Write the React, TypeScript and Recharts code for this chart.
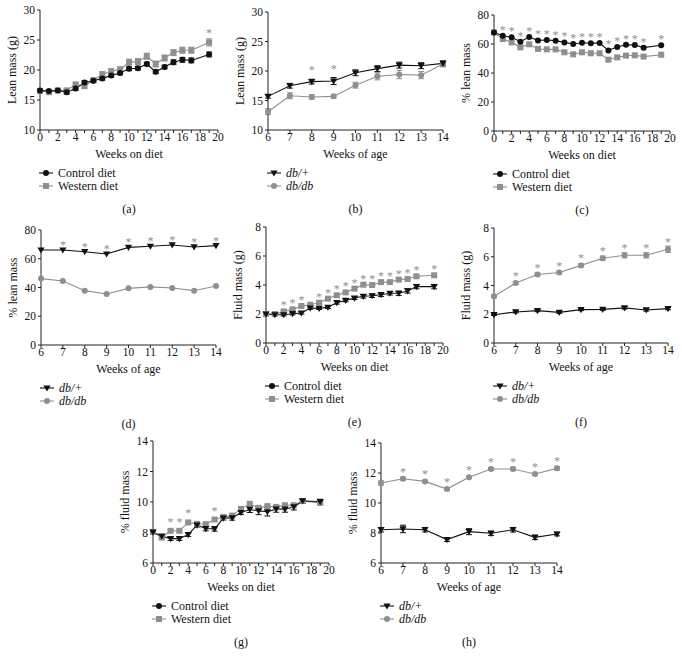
import { LineChart, Line, XAxis, YAxis, ErrorBar, LabelList } from 'recharts'

const DIET_WEEKS = [0, 1, 2, 3, 4, 5, 6, 7, 8, 9, 10, 11, 12, 13, 14, 15, 16, 17, 19]
const AGE_WEEKS = [6, 7, 8, 9, 10, 11, 12, 13, 14]
const DIET_TICKS = [0, 1, 2, 3, 4, 5, 6, 7, 8, 9, 10, 11, 12, 13, 14, 15, 16, 17, 18, 19, 20]

// (a) lean mass, diet
const LEAN_CONTROL = [16.6, 16.5, 16.6, 16.3, 16.9, 17.9, 18.2, 18.6, 19.1, 19.5, 20.2, 20.3, 21.0, 19.7, 20.5, 21.3, 21.7, 21.6, 22.6]
const LEAN_CONTROL_ERR = [0.2, 0.2, 0.2, 0.3, 0.3, 0.3, 0.3, 0.3, 0.3, 0.3, 0.3, 0.3, 0.3, 0.3, 0.3, 0.4, 0.4, 0.4, 0.4]
const LEAN_WESTERN = [16.5, 16.3, 16.6, 16.6, 17.6, 17.3, 18.3, 19.3, 19.8, 20.1, 21.3, 21.4, 22.3, 21.0, 22.0, 22.9, 23.3, 23.3, 24.6]
const LEAN_WESTERN_ERR = [0.2, 0.3, 0.3, 0.3, 0.3, 0.3, 0.3, 0.4, 0.4, 0.4, 0.5, 0.5, 0.5, 0.5, 0.5, 0.5, 0.5, 0.5, 0.6]
const LEAN_DIET_SIG = [19]

// (b) lean mass, age
const LEAN_DBH = [15.7, 17.5, 18.2, 18.3, 19.7, 20.4, 21.0, 20.9, 21.3]
const LEAN_DBH_ERR = [0.3, 0.4, 0.4, 0.6, 0.5, 0.5, 0.5, 0.5, 0.4]
const LEAN_DBDB = [13.1, 15.8, 15.6, 15.7, 17.6, 19.1, 19.4, 19.3, 21.2]
const LEAN_DBDB_ERR = [0.5, 0.5, 0.4, 0.3, 0.5, 0.6, 0.7, 0.6, 0.5]
const LEAN_AGE_SIG = [8, 9]

// (c) % lean mass, diet
const PLEAN_CONTROL = [68.0, 65.7, 64.6, 61.6, 64.8, 62.5, 62.8, 62.3, 61.1, 60.0, 60.9, 60.5, 60.7, 55.6, 57.9, 59.5, 59.3, 57.5, 59.1]
const PLEAN_WESTERN = [68.0, 63.4, 61.1, 57.7, 59.8, 56.6, 56.3, 56.3, 54.3, 52.9, 54.3, 53.6, 53.6, 49.2, 50.8, 52.0, 52.2, 51.3, 52.6]
const PLEAN_DIET_SIG = [1, 2, 3, 4, 5, 6, 7, 8, 9, 10, 11, 12, 13, 14, 15, 16, 17, 19]

// (d) % lean mass, age
const PLEAN_DBH = [66.1, 66.1, 64.9, 63.3, 67.9, 68.7, 69.6, 68.2, 69.1]
const PLEAN_DBDB = [46.2, 44.5, 37.8, 35.5, 39.4, 40.4, 39.7, 37.8, 41.1]
const PLEAN_AGE_SIG = [7, 8, 9, 10, 11, 12, 13, 14]

// (e) fluid mass, diet
const FLUID_CONTROL = [2.0, 1.95, 1.95, 2.02, 2.07, 2.41, 2.39, 2.46, 2.78, 2.94, 3.1, 3.22, 3.26, 3.33, 3.43, 3.43, 3.59, 3.89, 3.89]
const FLUID_CONTROL_ERR = [0.05, 0.05, 0.08, 0.08, 0.08, 0.08, 0.08, 0.08, 0.1, 0.1, 0.1, 0.12, 0.12, 0.12, 0.12, 0.15, 0.15, 0.15, 0.15]
const FLUID_WESTERN = [2.0, 2.0, 2.18, 2.32, 2.55, 2.64, 2.78, 3.06, 3.29, 3.49, 3.75, 4.02, 4.0, 4.2, 4.2, 4.37, 4.41, 4.6, 4.67]
const FLUID_WESTERN_ERR = [0.04, 0.04, 0.05, 0.05, 0.05, 0.05, 0.05, 0.05, 0.05, 0.05, 0.06, 0.06, 0.06, 0.06, 0.06, 0.06, 0.06, 0.07, 0.07]
const FLUID_DIET_SIG = [2, 3, 4, 6, 7, 8, 9, 10, 11, 12, 13, 14, 15, 16, 17, 19]

// (f) fluid mass, age
const FLUID_DBH = [1.97, 2.16, 2.25, 2.13, 2.32, 2.34, 2.44, 2.3, 2.39]
const FLUID_DBH_ERR = [0.06, 0.07, 0.07, 0.07, 0.07, 0.07, 0.08, 0.08, 0.08]
const FLUID_DBDB = [3.25, 4.17, 4.76, 4.9, 5.4, 5.9, 6.1, 6.1, 6.52]
const FLUID_DBDB_ERR = [0.1, 0.1, 0.1, 0.1, 0.12, 0.15, 0.18, 0.18, 0.22]
const FLUID_AGE_SIG = [7, 8, 9, 10, 11, 12, 13, 14]

// (g) % fluid mass, diet
const PFLUID_CONTROL = [8.02, 7.76, 7.6, 7.6, 7.86, 8.48, 8.26, 8.24, 8.94, 8.96, 9.31, 9.51, 9.42, 9.36, 9.53, 9.53, 9.68, 10.07, 10.03]
const PFLUID_CONTROL_ERR = [0.1, 0.1, 0.12, 0.12, 0.12, 0.12, 0.15, 0.15, 0.12, 0.15, 0.12, 0.2, 0.25, 0.28, 0.2, 0.2, 0.2, 0.15, 0.15]
const PFLUID_WESTERN = [8.04, 7.67, 8.11, 8.11, 8.66, 8.57, 8.55, 8.85, 9.02, 9.11, 9.55, 9.88, 9.62, 9.73, 9.68, 9.79, 9.79, 10.07, 9.94]
const PFLUID_WESTERN_ERR = [0.08, 0.1, 0.08, 0.08, 0.08, 0.08, 0.08, 0.08, 0.1, 0.1, 0.1, 0.1, 0.1, 0.1, 0.1, 0.1, 0.1, 0.12, 0.12]
const PFLUID_DIET_SIG = [2, 3, 4, 7]

// (h) % fluid mass, age
const PFLUID_DBH = [8.22, 8.27, 8.22, 7.56, 8.09, 7.98, 8.22, 7.71, 7.93]
const PFLUID_DBH_ERR = [0.15, 0.25, 0.15, 0.12, 0.2, 0.15, 0.15, 0.15, 0.12]
const PFLUID_DBDB = [11.33, 11.62, 11.44, 10.93, 11.71, 12.27, 12.27, 11.93, 12.31]
const PFLUID_DBDB_ERR = [0.15, 0.1, 0.08, 0.1, 0.08, 0.1, 0.12, 0.08, 0.12]
const PFLUID_AGE_SIG = [7, 8, 9, 10, 11, 12, 13, 14]

const BLACK = '#111'
const GRAY = '#8f8f8f'
const FONT = '"Liberation Serif", "Times New Roman", serif'

type Shape = 'circle' | 'square' | 'tri'

function Marker({ shape, color, x, y }: { shape: Shape; color: string; x: number; y: number }) {
  if (shape === 'circle') return <circle cx={x} cy={y} r={3} fill={color} />
  if (shape === 'square') return <rect x={x - 3} y={y - 3} width={6} height={6} fill={color} />
  return <path d={`M${x - 3.6},${y - 2.6}L${x + 3.6},${y - 2.6}L${x},${y + 3.6}Z`} fill={color} />
}

function makeDot(shape: Shape, color: string) {
  return (p: any) => {
    if (p.cx == null || p.cy == null) return <g key={p.index} />
    return (
      <g key={p.index}>
        <Marker shape={shape} color={color} x={p.cx} y={p.cy} />
      </g>
    )
  }
}

type Series = {
  label: string
  italic?: boolean
  values: number[]
  err?: number[]
  color: string
  shape: Shape
  legendShape: Shape
}

type PanelProps = {
  L: number
  T: number
  R: number
  B: number
  xs: number[]
  xTicks: number[]
  xEvery: number
  yDomain: [number, number]
  yTicks: number[]
  xLabel: string
  yLabel: string
  legend: Series[]
  drawOrder: Series[]
  stars: number[]
  starOn: number
  starOff: number
  caption: string
}

function Panel(p: PanelProps) {
  const YW = 40
  const MT = 16
  const MR = 12
  const XH = 34
  const data = p.xs.map((x, i) => {
    const row: any = { x, star: p.stars.includes(x) ? '*' : '' }
    p.drawOrder.forEach((s, k) => {
      row['s' + k] = s.values[i]
      if (s.err) row['e' + k] = s.err[i]
    })
    return row
  })
  const w = p.R - p.L
  const h = p.B - p.T
  const tickStyle = { fill: '#111', fontSize: 11.5, fontFamily: FONT }

  return (
    <>
      <div style={{ position: 'absolute', left: p.L - YW, top: p.T - MT }}>
        <LineChart width={w + YW + MR} height={h + MT + XH} data={data} margin={{ top: MT, right: MR, left: 0, bottom: 0 }}>
          <XAxis
            dataKey="x"
            type="number"
            domain={[p.xTicks[0], p.xTicks[p.xTicks.length - 1]]}
            ticks={p.xTicks}
            interval={0}
            tickFormatter={(v: number) => (v % p.xEvery === 0 ? String(v) : '')}
            height={XH}
            stroke="#222"
            tickSize={3}
            tickMargin={0}
            tick={tickStyle}
            label={{ value: p.xLabel, position: 'insideBottom', offset: 6, style: { fill: '#111', fontSize: 12, fontFamily: FONT } }}
          />
          <YAxis
            type="number"
            domain={p.yDomain}
            ticks={p.yTicks}
            interval={0}
            width={YW}
            stroke="#222"
            tickSize={3}
            tickMargin={2}
            tick={tickStyle}
            label={{ value: p.yLabel, angle: -90, position: 'insideLeft', offset: 12, style: { textAnchor: 'middle', fill: '#111', fontSize: 12, fontFamily: FONT } }}
          />
          {p.drawOrder.map((s, k) => (
            <Line
              key={s.label}
              dataKey={'s' + k}
              stroke={s.color}
              strokeWidth={1.1}
              dot={makeDot(s.shape, s.color)}
              activeDot={false}
              isAnimationActive={false}
            >
              {s.err && <ErrorBar dataKey={'e' + k} width={3} stroke={s.color} strokeWidth={1} direction="y" />}
              {k === p.starOn && (
                <LabelList
                  dataKey="star"
                  content={(lp: any) =>
                    lp.value ? (
                      <text x={lp.x} y={lp.y - p.starOff + 5} textAnchor="middle" fill={GRAY} fontSize={12} fontFamily={FONT}>
                        *
                      </text>
                    ) : null
                  }
                />
              )}
            </Line>
          ))}
        </LineChart>
      </div>
      <div style={{ position: 'absolute', left: p.L - 1, top: p.B + 37, fontFamily: FONT, fontSize: 12, color: '#111', lineHeight: '12.5px' }}>
        {p.legend.map((s) => (
          <div key={s.label} style={{ display: 'flex', alignItems: 'center', whiteSpace: 'nowrap' }}>
            <svg width={14} height={10} style={{ marginRight: 5 }}>
              <line x1={0} y1={5} x2={14} y2={5} stroke={s.color} strokeWidth={1.1} />
              <Marker shape={s.legendShape} color={s.color} x={7} y={5} />
            </svg>
            <span style={{ fontStyle: s.italic ? 'italic' : 'normal' }}>{s.label}</span>
          </div>
        ))}
      </div>
      <div style={{ position: 'absolute', left: p.L, width: w, top: p.B + 72, textAlign: 'center', fontFamily: FONT, fontSize: 12, color: '#111' }}>
        {p.caption}
      </div>
    </>
  )
}

function dietSeries(control: number[], western: number[], controlErr?: number[], westernErr?: number[], controlShape: Shape = 'circle') {
  const c: Series = { label: 'Control diet', values: control, err: controlErr, color: BLACK, shape: controlShape, legendShape: 'circle' }
  const w: Series = { label: 'Western diet', values: western, err: westernErr, color: GRAY, shape: 'square', legendShape: 'square' }
  return { c, w }
}

function ageSeries(dbh: number[], dbdb: number[], dbhErr?: number[], dbdbErr?: number[]) {
  const a: Series = { label: 'db/+', italic: true, values: dbh, err: dbhErr, color: BLACK, shape: 'tri', legendShape: 'tri' }
  const b: Series = { label: 'db/db', italic: true, values: dbdb, err: dbdbErr, color: GRAY, shape: 'circle', legendShape: 'circle' }
  return { a, b }
}

export default function App() {
  const pa = dietSeries(LEAN_CONTROL, LEAN_WESTERN, LEAN_CONTROL_ERR, LEAN_WESTERN_ERR)
  const pb = ageSeries(LEAN_DBH, LEAN_DBDB, LEAN_DBH_ERR, LEAN_DBDB_ERR)
  const pc = dietSeries(PLEAN_CONTROL, PLEAN_WESTERN)
  const pd = ageSeries(PLEAN_DBH, PLEAN_DBDB)
  const pe = dietSeries(FLUID_CONTROL, FLUID_WESTERN, FLUID_CONTROL_ERR, FLUID_WESTERN_ERR, 'tri')
  const pf = ageSeries(FLUID_DBH, FLUID_DBDB, FLUID_DBH_ERR, FLUID_DBDB_ERR)
  const pg = dietSeries(PFLUID_CONTROL, PFLUID_WESTERN, PFLUID_CONTROL_ERR, PFLUID_WESTERN_ERR, 'tri')
  const ph = ageSeries(PFLUID_DBH, PFLUID_DBDB, PFLUID_DBH_ERR, PFLUID_DBDB_ERR)

  return (
    <div style={{ position: 'fixed', left: 0, top: 0, width: 682, height: 662, background: '#fff', overflow: 'hidden' }}>
      <Panel L={40} T={10} R={218} B={130} xs={DIET_WEEKS} xTicks={DIET_TICKS} xEvery={2} yDomain={[10, 30]} yTicks={[10, 15, 20, 25, 30]}
        xLabel="Weeks on diet" yLabel="Lean mass (g)" legend={[pa.c, pa.w]} drawOrder={[pa.w, pa.c]} stars={LEAN_DIET_SIG} starOn={0} starOff={10} caption="(a)" />
      <Panel L={268} T={12} R={443} B={130} xs={AGE_WEEKS} xTicks={AGE_WEEKS} xEvery={1} yDomain={[10, 30]} yTicks={[10, 15, 20, 25, 30]}
        xLabel="Weeks of age" yLabel="Lean mass (g)" legend={[pb.a, pb.b]} drawOrder={[pb.b, pb.a]} stars={LEAN_AGE_SIG} starOn={1} starOff={13} caption="(b)" />
      <Panel L={494} T={15} R={670} B={131} xs={DIET_WEEKS} xTicks={DIET_TICKS} xEvery={2} yDomain={[0, 80]} yTicks={[0, 20, 40, 60, 80]}
        xLabel="Weeks on diet" yLabel="% lean mass" legend={[pc.c, pc.w]} drawOrder={[pc.w, pc.c]} stars={PLEAN_DIET_SIG} starOn={1} starOff={7} caption="(c)" />
      <Panel L={41} T={230} R={216} B={345} xs={AGE_WEEKS} xTicks={AGE_WEEKS} xEvery={1} yDomain={[0, 80]} yTicks={[0, 20, 40, 60, 80]}
        xLabel="Weeks of age" yLabel="% lean mass" legend={[pd.a, pd.b]} drawOrder={[pd.b, pd.a]} stars={PLEAN_AGE_SIG} starOn={1} starOff={6} caption="(d)" />
      <Panel L={266} T={227} R={443} B={343} xs={DIET_WEEKS} xTicks={DIET_TICKS} xEvery={2} yDomain={[0, 8]} yTicks={[0, 2, 4, 6, 8]}
        xLabel="Weeks on diet" yLabel="Fluid mass (g)" legend={[pe.c, pe.w]} drawOrder={[pe.w, pe.c]} stars={FLUID_DIET_SIG} starOn={0} starOff={7} caption="(e)" />
      <Panel L={494} T={228} R={668} B={343} xs={AGE_WEEKS} xTicks={AGE_WEEKS} xEvery={1} yDomain={[0, 8]} yTicks={[0, 2, 4, 6, 8]}
        xLabel="Weeks of age" yLabel="Fluid mass (g)" legend={[pf.a, pf.b]} drawOrder={[pf.b, pf.a]} stars={FLUID_AGE_SIG} starOn={0} starOff={8} caption="(f)" />
      <Panel L={153} T={441} R={329} B={563} xs={DIET_WEEKS} xTicks={DIET_TICKS} xEvery={2} yDomain={[6, 14]} yTicks={[6, 8, 10, 12, 14]}
        xLabel="Weeks on diet" yLabel="% fluid mass" legend={[pg.c, pg.w]} drawOrder={[pg.w, pg.c]} stars={PFLUID_DIET_SIG} starOn={0} starOff={10} caption="(g)" />
      <Panel L={381} T={443} R={557} B={563} xs={AGE_WEEKS} xTicks={AGE_WEEKS} xEvery={1} yDomain={[6, 14]} yTicks={[6, 8, 10, 12, 14]}
        xLabel="Weeks of age" yLabel="% fluid mass" legend={[ph.a, ph.b]} drawOrder={[ph.b, ph.a]} stars={PFLUID_AGE_SIG} starOn={0} starOff={8} caption="(h)" />
    </div>
  )
}
